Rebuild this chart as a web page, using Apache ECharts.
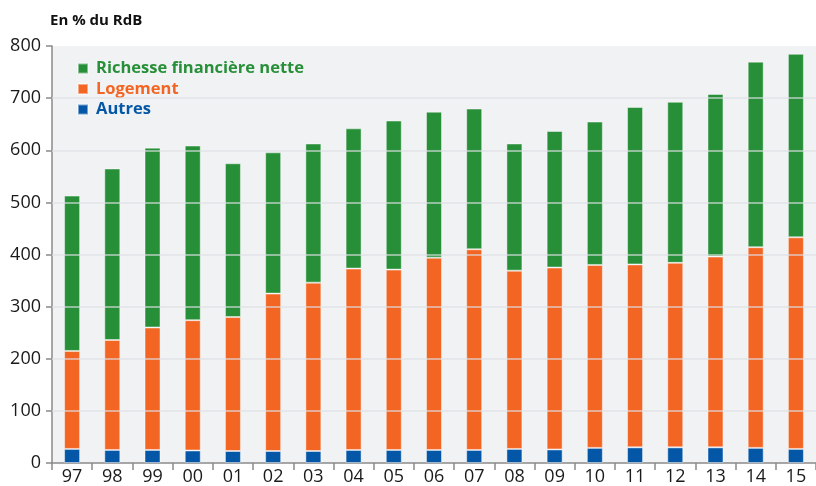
<!DOCTYPE html>
<html lang="fr">
<head>
    <meta charset="UTF-8">
    <title>Patrimoine des ménages</title>
    <style>
        html, body { margin: 0; padding: 0; background: #fff; }
    </style>
</head>
<body>
<div id="main" style="width: 816px;height:486px;"></div>

<script src="https://cdn.jsdelivr.net/npm/echarts@6/dist/echarts.min.js"></script>
<script>
    var years = ['97', '98', '99', '00', '01', '02', '03', '04', '05', '06', '07', '08', '09', '10', '11', '12', '13', '14', '15'];
    var autres = [27, 25, 25, 24, 23, 23, 23, 25, 25, 25, 25, 27, 26, 29, 30, 30, 30, 29, 27];
    var logement = [188, 211, 235, 250, 257, 302, 323, 348, 346, 369, 385, 342, 349, 351, 351, 354, 366, 385, 406];
    var richesse = [298, 329, 345, 335, 295, 271, 267, 269, 286, 280, 270, 244, 262, 275, 302, 309, 312, 356, 352];
    var gridValues = [100, 200, 300, 400, 500, 600, 700];

    var font = 'Open Sans';
    var barBorder = 'rgba(255,255,255,0.45)';
    var cGreen = '#278f38', cOrange = '#f36523', cBlue = '#0457a6';

    var chartDom = document.getElementById('main');
    var myChart = echarts.init(chartDom);
    var option;

    option = {
        animation: false,
        textStyle: { fontFamily: font },
        title: {
            text: 'En % du RdB',
            left: 45,
            top: 8,
            textStyle: { fontSize: 15, fontWeight: 'bold', color: '#111', fontFamily: font }
        },
        legend: {
            data: [
                { name: 'Richesse financière nette', textStyle: { color: cGreen } },
                { name: 'Logement', textStyle: { color: cOrange } },
                { name: 'Autres', textStyle: { color: cBlue } }
            ],
            orient: 'vertical',
            left: 72,
            top: 55,
            itemWidth: 10,
            itemHeight: 10,
            itemGap: 3.5,
            icon: 'rect',
            textStyle: {
                fontSize: 16.5,
                fontWeight: 'bold',
                fontFamily: font,
                padding: [0, 0, 0, 3]
            }
        },
        grid: {
            left: 52,
            right: -5,
            top: 46,
            bottom: 23,
            show: true,
            backgroundColor: '#f1f2f4',
            borderWidth: 0
        },
        xAxis: {
            type: 'category',
            data: years,
            axisLine: { lineStyle: { color: '#8a8a8a', width: 1.5 } },
            axisTick: { show: true, length: 7, lineStyle: { color: '#8a8a8a', width: 1.5 } },
            axisLabel: { fontSize: 18, color: '#1a1a1a', margin: 5, fontFamily: font }
        },
        yAxis: {
            type: 'value',
            min: 0,
            max: 800,
            interval: 100,
            axisLine: { show: true, lineStyle: { color: '#8a8a8a', width: 1.5 } },
            axisTick: { show: true, length: 6, lineStyle: { color: '#8a8a8a', width: 1.5 } },
            axisLabel: { fontSize: 18, color: '#1a1a1a', margin: 11, fontFamily: font },
            splitLine: { show: false }
        },
        series: [
            {
                name: 'Autres',
                type: 'bar',
                stack: 'total',
                barWidth: 16,
                data: autres,
                itemStyle: { color: cBlue, borderColor: barBorder, borderWidth: 1 }
            },
            {
                name: 'Logement',
                type: 'bar',
                stack: 'total',
                barWidth: 16,
                data: logement,
                itemStyle: { color: cOrange, borderColor: barBorder, borderWidth: 1 }
            },
            {
                name: 'Richesse financière nette',
                type: 'bar',
                stack: 'total',
                barWidth: 16,
                data: richesse,
                itemStyle: { color: cGreen, borderColor: barBorder, borderWidth: 1 }
            },
            {
                name: 'grille',
                type: 'line',
                data: [],
                z: 10,
                silent: true,
                markLine: {
                    silent: true,
                    symbol: ['none', 'none'],
                    label: { show: false },
                    lineStyle: { color: 'rgba(222,224,228,0.8)', width: 1.5, type: 'solid' },
                    data: gridValues.map(function (v) { return { yAxis: v }; })
                }
            }
        ]
    };

    option && myChart.setOption(option);
</script>
</body>
</html>
